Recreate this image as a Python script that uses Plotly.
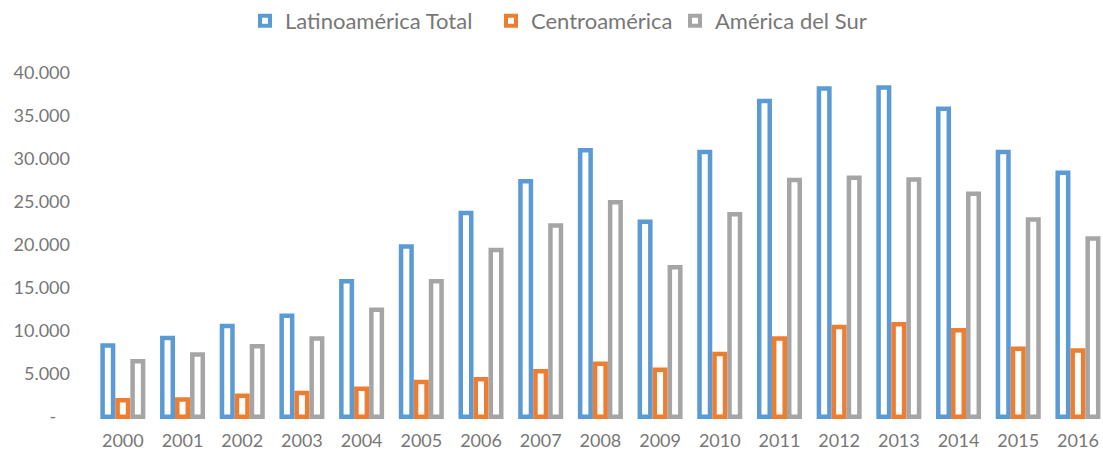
import plotly.graph_objects as go

years = ["2000", "2001", "2002", "2003", "2004", "2005", "2006", "2007", "2008",
         "2009", "2010", "2011", "2012", "2013", "2014", "2015", "2016"]
latam_total = [8300, 9150, 10550, 11750, 15750, 19800, 23700, 27400, 31000,
               22700, 30800, 36750, 38200, 38300, 35850, 30800, 28400]
centroamerica = [1900, 2000, 2450, 2750, 3250, 4050, 4350, 5300, 6150,
                 5450, 7300, 9100, 10450, 10750, 10050, 7900, 7700]
america_sur = [6450, 7250, 8200, 9100, 12450, 15750, 19400, 22250, 24950,
               17400, 23550, 27550, 27800, 27600, 25950, 22950, 20750]

series_names = ["Latinoamérica Total", "Centroamérica", "América del Sur"]
series_colors = ["#5B9BD5", "#ED7D31", "#A5A5A5"]
legend_ids = ["legend", "legend2", "legend3"]
legend_x_px = [245, 491, 675]

y_tick_vals = [0, 5000, 10000, 15000, 20000, 25000, 30000, 35000, 40000]
y_tick_text = ["-\u00a0\u00a0\u00a0", "5.000", "10.000", "15.000", "20.000",
               "25.000", "30.000", "35.000", "40.000"]

FONT = "Lato"
TXT = "#777777"
W, H = 1103, 453

fig = go.Figure()
for name, vals, col, lg in zip(series_names, [latam_total, centroamerica, america_sur],
                               series_colors, legend_ids):
    fig.add_trace(go.Bar(
        x=years, y=vals, name=name, legendgroup=name, showlegend=False,
        marker=dict(color="white", line=dict(color=col, width=4.5)),
    ))
    # legend swatch (thick-bordered square, as in the original legend)
    fig.add_trace(go.Scatter(
        x=[None], y=[None], name=name, legendgroup=name, mode="markers",
        legend=lg,
        marker=dict(symbol="square", size=10, color="white",
                    line=dict(color=col, width=4)),
    ))

legend_common = dict(orientation="h", xref="container", yref="container",
                     y=1.0, xanchor="left", yanchor="top",
                     font=dict(family=FONT, size=22, color=TXT),
                     itemsizing="trace", itemwidth=30, itemclick=False,
                     bgcolor="rgba(0,0,0,0)")
legends = {}
for lg, xp in zip(legend_ids, legend_x_px):
    legends[lg] = dict(legend_common, x=xp / W)

fig.update_layout(
    width=W, height=H,
    margin=dict(l=93, r=0, t=73, b=33),
    paper_bgcolor="white", plot_bgcolor="white",
    barmode="group", bargap=0.246, bargroupgap=0.3,
    font=dict(family=FONT, size=18, color=TXT),
    showlegend=True,
    xaxis=dict(type="category", range=[-0.5, 16.42], showgrid=False,
               showline=False, zeroline=False, ticks="",
               ticklabelstandoff=8,
               tickfont=dict(family=FONT, size=18, color=TXT)),
    yaxis=dict(range=[-384, 40000], tickvals=y_tick_vals, ticktext=y_tick_text,
               showgrid=False, showline=False, zeroline=False, ticks="",
               ticklabelstandoff=22,
               tickfont=dict(family=FONT, size=18, color=TXT)),
    **legends,
)

fig.write_html("out.html")
